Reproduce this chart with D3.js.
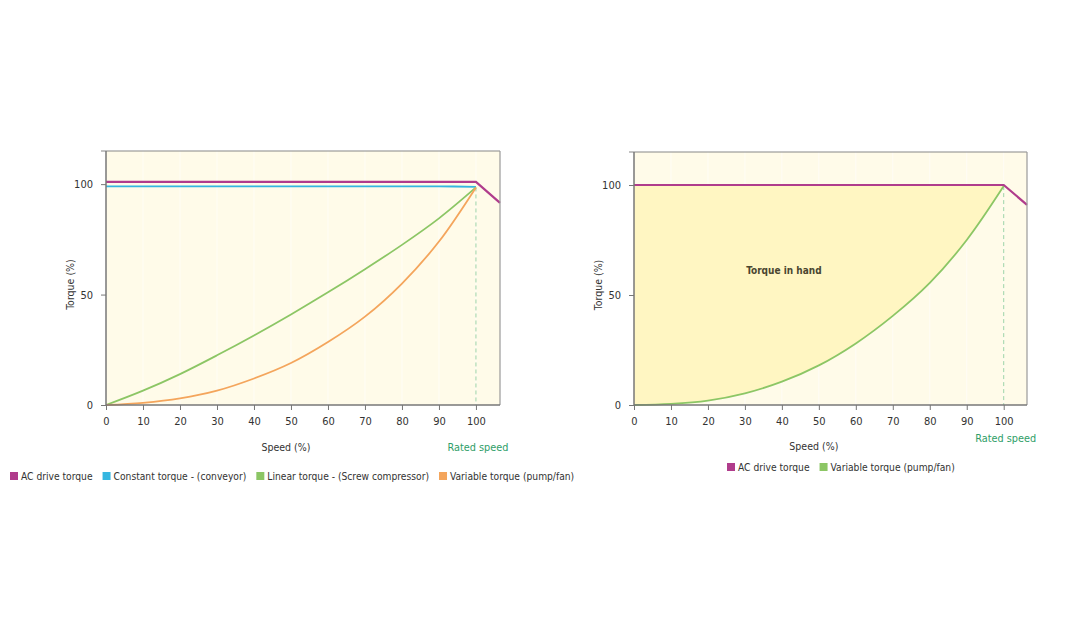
<!DOCTYPE html>
<html><head><meta charset="utf-8">
<script src="https://cdn.jsdelivr.net/npm/d3@7"></script>
<style>
html,body{margin:0;padding:0;background:#fff;}
svg{display:block;}
text{font-family:"DejaVu Sans Condensed","Open Sans",sans-serif;}
</style></head>
<body>
<svg id="c" width="1069" height="623"></svg>
<script>
// ---- data ----
const speedTicks = [0,10,20,30,40,50,60,70,80,90,100];
const torqueTicks = [0,50,100];
const speed = [0,10,20,30,40,50,60,70,80,90,100];
const acSpeed = [0,100,106.5];
const acLeft = [101,101,91.5];
const acRight = [100,100,91];
const constantTorque = [99,99,99,99,99,99,99,99,99,99,98.8];
const linearTorque = [0,6.5,14,22.5,31.5,41,51,61.5,72.5,84.5,98.5];
const variableLeft = [0,1,3,6.5,12,19,28.5,40,55,74,98.5];
const variableRight = [0,0.5,2,5.3,10.6,18,28,40.5,55.5,75,99.5];
const legendLeft = ["AC drive torque","Constant torque - (conveyor)","Linear torque - (Screw compressor)","Variable torque (pump/fan)"];
const legendRight = ["AC drive torque","Variable torque (pump/fan)"];
const colors = {ac:"#b03c8c", constant:"#35b6e0", linear:"#8cc665", variable:"#f4a55c"};

const svg = d3.select("#c");
const pts = (xs, ys) => xs.map((x,i)=>[x, ys[i]]);

function panel(opt){
  const g = svg.append("g");
  const x = d3.scaleLinear().domain([0, opt.xmax]).range([opt.x0, opt.x1]);
  const y = d3.scaleLinear().domain([0, 115]).range([405, opt.y0]);
  g.append("rect").attr("x", x(0)).attr("y", y(115)).attr("width", x(opt.xmax)-x(0)).attr("height", y(0)-y(115)).attr("fill", "#fffbe9");
  g.append("g").selectAll("line").data(speedTicks.slice(1)).join("line")
    .attr("x1", d=>x(d)).attr("x2", d=>x(d)).attr("y1", y(115)).attr("y2", y(0))
    .attr("stroke", "#ffffff").attr("stroke-width", 1).attr("opacity", 0.6);
  const line = d3.line().x(d=>x(d[0])).y(d=>y(d[1]));
  const sm = d3.line().x(d=>x(d[0])).y(d=>y(d[1])).curve(d3.curveCatmullRom.alpha(0.5));
  if (opt.fill) {
    const area = d3.area().x(d=>x(d[0])).y0(d=>y(d[1])).y1(y(opt.ac[0])).curve(d3.curveCatmullRom.alpha(0.5));
    g.append("path").attr("d", area(pts(speed, opt.fill))).attr("fill", "#fff6c2");
  }
  g.append("line").attr("x1", x(100)).attr("x2", x(100)).attr("y1", y(opt.rated)).attr("y2", y(0))
    .attr("stroke", "#9ed3a6").attr("stroke-width", 1).attr("stroke-dasharray", "4,3");
  opt.series.forEach(s=>{
    g.append("path").attr("d", sm(pts(speed, s.v))).attr("fill","none")
      .attr("stroke", s.c).attr("stroke-width", 1.8);
  });
  g.append("path").attr("d", line(pts(acSpeed.map(v=>Math.min(v,opt.xmax)), opt.ac))).attr("fill","none")
    .attr("stroke", colors.ac).attr("stroke-width", 2.2);
  g.append("line").attr("x1", x(0)-5).attr("x2", x(opt.xmax)).attr("y1", y(115)).attr("y2", y(115)).attr("stroke", "#888").attr("stroke-width", 1.2);
  g.append("line").attr("x1", x(opt.xmax)).attr("x2", x(opt.xmax)).attr("y1", y(115)).attr("y2", y(0)).attr("stroke", "#999").attr("stroke-width", 1.2);
  const xa = g.append("g").attr("transform", `translate(0,${y(0)})`)
    .call(d3.axisBottom(x).tickValues(speedTicks).tickSize(5).tickPadding(7).tickSizeOuter(0));
  const ya = g.append("g").attr("transform", `translate(${x(0)},0)`)
    .call(d3.axisLeft(y).tickValues(torqueTicks).tickSize(5).tickPadding(8).tickSizeOuter(0));
  [xa, ya].forEach(a=>{
    a.select(".domain").attr("stroke", "#777").attr("stroke-width", 1.5);
    a.selectAll(".tick line").attr("stroke", "#777");
    a.selectAll("text").attr("fill", "#333").style("font-size", "11px")
      .style("font-family", '"DejaVu Sans Condensed",sans-serif');
  });
  xa.select(".domain").attr("d", `M${x(0)},0H${x(opt.xmax)}`);
  ya.select(".domain").attr("d", `M0,${y(115)}V${y(0)}`);
  g.append("text").attr("x", (x(0)+x(100))/2 - 5).attr("y", opt.xtY).attr("text-anchor","middle")
    .attr("font-size", 10.5).attr("fill", "#333").text("Speed (%)");
  g.append("text").attr("transform", `translate(${x(0)-32},${(y(0)+y(100))/2 - 10}) rotate(-90)`)
    .attr("text-anchor","middle").attr("font-size", 10.5).attr("fill", "#333").text("Torque (%)");
  g.append("text").attr("x", x(100)+2).attr("y", opt.ratedY).attr("text-anchor","middle")
    .attr("font-size", 10.8).attr("fill", "#2f9e68").text("Rated speed");
  if (opt.fill) {
    g.append("text").attr("x", x(40)+2).attr("y", y(60)+1).attr("text-anchor","middle")
      .attr("font-size", 10).attr("font-weight", 600).attr("fill", "#4a4630").text("Torque in hand");
  }
  let lx = opt.legX;
  opt.legend.forEach((name,i)=>{
    g.append("rect").attr("x", lx).attr("y", opt.legY-4).attr("width", 8).attr("height", 8).attr("fill", opt.legColors[i]);
    const t = g.append("text").attr("x", lx+11).attr("y", opt.legY+4).attr("font-size", 10.2).attr("fill", "#333").text(name);
    lx += 11 + t.node().getComputedTextLength() + 10;
  });
}

panel({x0:106, x1:500, xmax:106.5, y0:151, ac:acLeft, rated:98.5,
  series:[{v:constantTorque,c:colors.constant},{v:linearTorque,c:colors.linear},{v:variableLeft,c:colors.variable}],
  xtY:451, ratedY:451, legX:10, legY:476, legend:legendLeft,
  legColors:[colors.ac,colors.constant,colors.linear,colors.variable]});

panel({x0:634, x1:1027, xmax:106.3, y0:152, ac:acRight, rated:99.5, fill:variableRight,
  series:[{v:variableRight,c:colors.linear}],
  xtY:450, ratedY:442, legX:727, legY:467, legend:legendRight,
  legColors:[colors.ac,colors.linear]});
</script>
</body></html>
